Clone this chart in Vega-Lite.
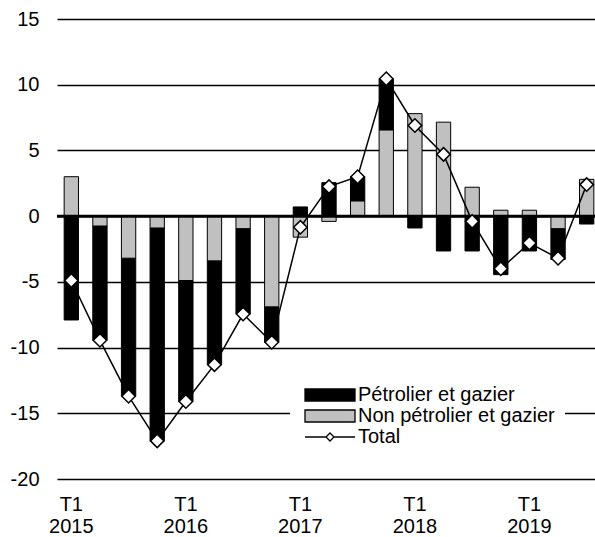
{
  "$schema": "https://vega.github.io/schema/vega-lite/v6.json",
  "width": 538,
  "height": 460,
  "autosize": {"type": "none"},
  "padding": {"left": 57, "top": 19, "right": 0, "bottom": 58},
  "background": "white",
  "config": {
    "view": {"stroke": null},
    "font": "Liberation Sans"
  },
  "datasets": {
    "bars": [
      {"q": "2015-T1", "series": "Pétrolier et gazier", "value": -7.9},
      {"q": "2015-T1", "series": "Non pétrolier et gazier", "value": 3.0},
      {"q": "2015-T2", "series": "Pétrolier et gazier", "value": -8.7},
      {"q": "2015-T2", "series": "Non pétrolier et gazier", "value": -0.75},
      {"q": "2015-T3", "series": "Pétrolier et gazier", "value": -10.5},
      {"q": "2015-T3", "series": "Non pétrolier et gazier", "value": -3.2},
      {"q": "2015-T4", "series": "Pétrolier et gazier", "value": -16.2},
      {"q": "2015-T4", "series": "Non pétrolier et gazier", "value": -0.9},
      {"q": "2016-T1", "series": "Pétrolier et gazier", "value": -9.2},
      {"q": "2016-T1", "series": "Non pétrolier et gazier", "value": -4.9},
      {"q": "2016-T2", "series": "Pétrolier et gazier", "value": -7.9},
      {"q": "2016-T2", "series": "Non pétrolier et gazier", "value": -3.4},
      {"q": "2016-T3", "series": "Pétrolier et gazier", "value": -6.5},
      {"q": "2016-T3", "series": "Non pétrolier et gazier", "value": -0.95},
      {"q": "2016-T4", "series": "Pétrolier et gazier", "value": -2.7},
      {"q": "2016-T4", "series": "Non pétrolier et gazier", "value": -6.9},
      {"q": "2017-T1", "series": "Pétrolier et gazier", "value": 0.7},
      {"q": "2017-T1", "series": "Non pétrolier et gazier", "value": -1.6},
      {"q": "2017-T2", "series": "Pétrolier et gazier", "value": 2.55},
      {"q": "2017-T2", "series": "Non pétrolier et gazier", "value": -0.4},
      {"q": "2017-T3", "series": "Pétrolier et gazier", "value": 1.85},
      {"q": "2017-T3", "series": "Non pétrolier et gazier", "value": 1.15},
      {"q": "2017-T4", "series": "Pétrolier et gazier", "value": 3.9},
      {"q": "2017-T4", "series": "Non pétrolier et gazier", "value": 6.55},
      {"q": "2018-T1", "series": "Pétrolier et gazier", "value": -0.9},
      {"q": "2018-T1", "series": "Non pétrolier et gazier", "value": 7.8},
      {"q": "2018-T2", "series": "Pétrolier et gazier", "value": -2.65},
      {"q": "2018-T2", "series": "Non pétrolier et gazier", "value": 7.15},
      {"q": "2018-T3", "series": "Pétrolier et gazier", "value": -2.65},
      {"q": "2018-T3", "series": "Non pétrolier et gazier", "value": 2.2},
      {"q": "2018-T4", "series": "Pétrolier et gazier", "value": -4.45},
      {"q": "2018-T4", "series": "Non pétrolier et gazier", "value": 0.45},
      {"q": "2019-T1", "series": "Pétrolier et gazier", "value": -2.65},
      {"q": "2019-T1", "series": "Non pétrolier et gazier", "value": 0.45},
      {"q": "2019-T2", "series": "Pétrolier et gazier", "value": -2.35},
      {"q": "2019-T2", "series": "Non pétrolier et gazier", "value": -0.95},
      {"q": "2019-T3", "series": "Pétrolier et gazier", "value": -0.6},
      {"q": "2019-T3", "series": "Non pétrolier et gazier", "value": 2.8}
    ],
    "total": [
      {"q": "2015-T1", "value": -4.9},
      {"q": "2015-T2", "value": -9.45},
      {"q": "2015-T3", "value": -13.7},
      {"q": "2015-T4", "value": -17.1},
      {"q": "2016-T1", "value": -14.1},
      {"q": "2016-T2", "value": -11.3},
      {"q": "2016-T3", "value": -7.45},
      {"q": "2016-T4", "value": -9.6},
      {"q": "2017-T1", "value": -0.85},
      {"q": "2017-T2", "value": 2.25},
      {"q": "2017-T3", "value": 3.0},
      {"q": "2017-T4", "value": 10.45},
      {"q": "2018-T1", "value": 6.9},
      {"q": "2018-T2", "value": 4.7},
      {"q": "2018-T3", "value": -0.4},
      {"q": "2018-T4", "value": -4.0},
      {"q": "2019-T1", "value": -2.05},
      {"q": "2019-T2", "value": -3.2},
      {"q": "2019-T3", "value": 2.4}
    ]
  },
  "layer": [
    {
      "data": {"name": "bars"},
      "mark": {"type": "bar", "stroke": "black", "strokeWidth": 1},
      "encoding": {
        "x": {
          "field": "q",
          "type": "ordinal",
          "sort": null,
          "scale": {
            "domain": ["2015-T1","2015-T2","2015-T3","2015-T4","2016-T1","2016-T2","2016-T3","2016-T4","2017-T1","2017-T2","2017-T3","2017-T4","2018-T1","2018-T2","2018-T3","2018-T4","2019-T1","2019-T2","2019-T3"],
            "range": [0, 544],
            "paddingInner": 0.5,
            "paddingOuter": 0.25
          },
          "axis": {
            "title": null,
            "domain": false,
            "ticks": false,
            "grid": false,
            "labelAngle": 0,
            "labelAlign": "center",
            "labelBaseline": "top",
            "labelFontSize": 20,
            "labelFont": "Liberation Sans",
            "labelColor": "black",
            "labelPadding": 15,
            "labelLineHeight": 22,
            "labelOverlap": false,
            "labelExpr": "indexof(datum.value, 'T1') >= 0 ? ['T1', slice(datum.value, 0, 4)] : ''"
          }
        },
        "y": {
          "field": "value",
          "type": "quantitative",
          "stack": "zero",
          "scale": {"domain": [-20, 15], "nice": false, "zero": false},
          "axis": {
            "title": null,
            "domain": false,
            "ticks": false,
            "values": [-20, -15, -10, -5, 0, 5, 10, 15],
            "grid": true,
            "gridColor": "black",
            "gridWidth": 1.5,
            "gridOpacity": 1,
            "labelFontSize": 20,
            "labelFont": "Liberation Sans",
            "labelColor": "black",
            "labelPadding": 18,
            "labelExpr": "toString(datum.value)"
          }
        },
        "order": {"field": "series", "sort": "ascending"},
        "color": {
          "field": "series",
          "type": "nominal",
          "scale": {
            "domain": ["Pétrolier et gazier", "Non pétrolier et gazier", "Total"],
            "range": ["black", "#c0c0c0", "white"]
          },
          "legend": {
            "title": null,
            "orient": "none",
            "legendX": 233,
            "legendY": 356,
            "fillColor": "white",
            "padding": 10,
            "labelFontSize": 20,
            "labelFont": "Liberation Sans",
            "labelColor": "black",
            "labelLimit": 0,
            "symbolSize": 100,
            "labelOffset": 38,
            "rowPadding": 1,
            "symbolStrokeColor": "black",
            "symbolStrokeWidth": 1.3,
            "symbolType": {"expr": "datum.value === 'Total' ? 'M-1,0H3.2M4.8,0H9M4,-0.8L4.8,0L4,0.8L3.2,0Z' : 'M-1,-1.2H9V1.2H-1Z'"}
          }
        }
      }
    },
    {
      "data": {"values": [{}]},
      "mark": {"type": "rule", "color": "black", "strokeWidth": 3},
      "encoding": {"y": {"datum": 0}}
    },
    {
      "data": {"name": "total"},
      "mark": {"type": "line", "color": "black", "strokeWidth": 1.5},
      "encoding": {
        "x": {"field": "q", "type": "ordinal", "sort": null},
        "y": {"field": "value", "type": "quantitative"}
      }
    },
    {
      "data": {"name": "total"},
      "mark": {"type": "point", "shape": "diamond", "filled": true, "fill": "white", "stroke": "black", "strokeWidth": 1.5, "size": 180, "opacity": 1},
      "encoding": {
        "x": {"field": "q", "type": "ordinal", "sort": null},
        "y": {"field": "value", "type": "quantitative"}
      }
    }
  ]
}
